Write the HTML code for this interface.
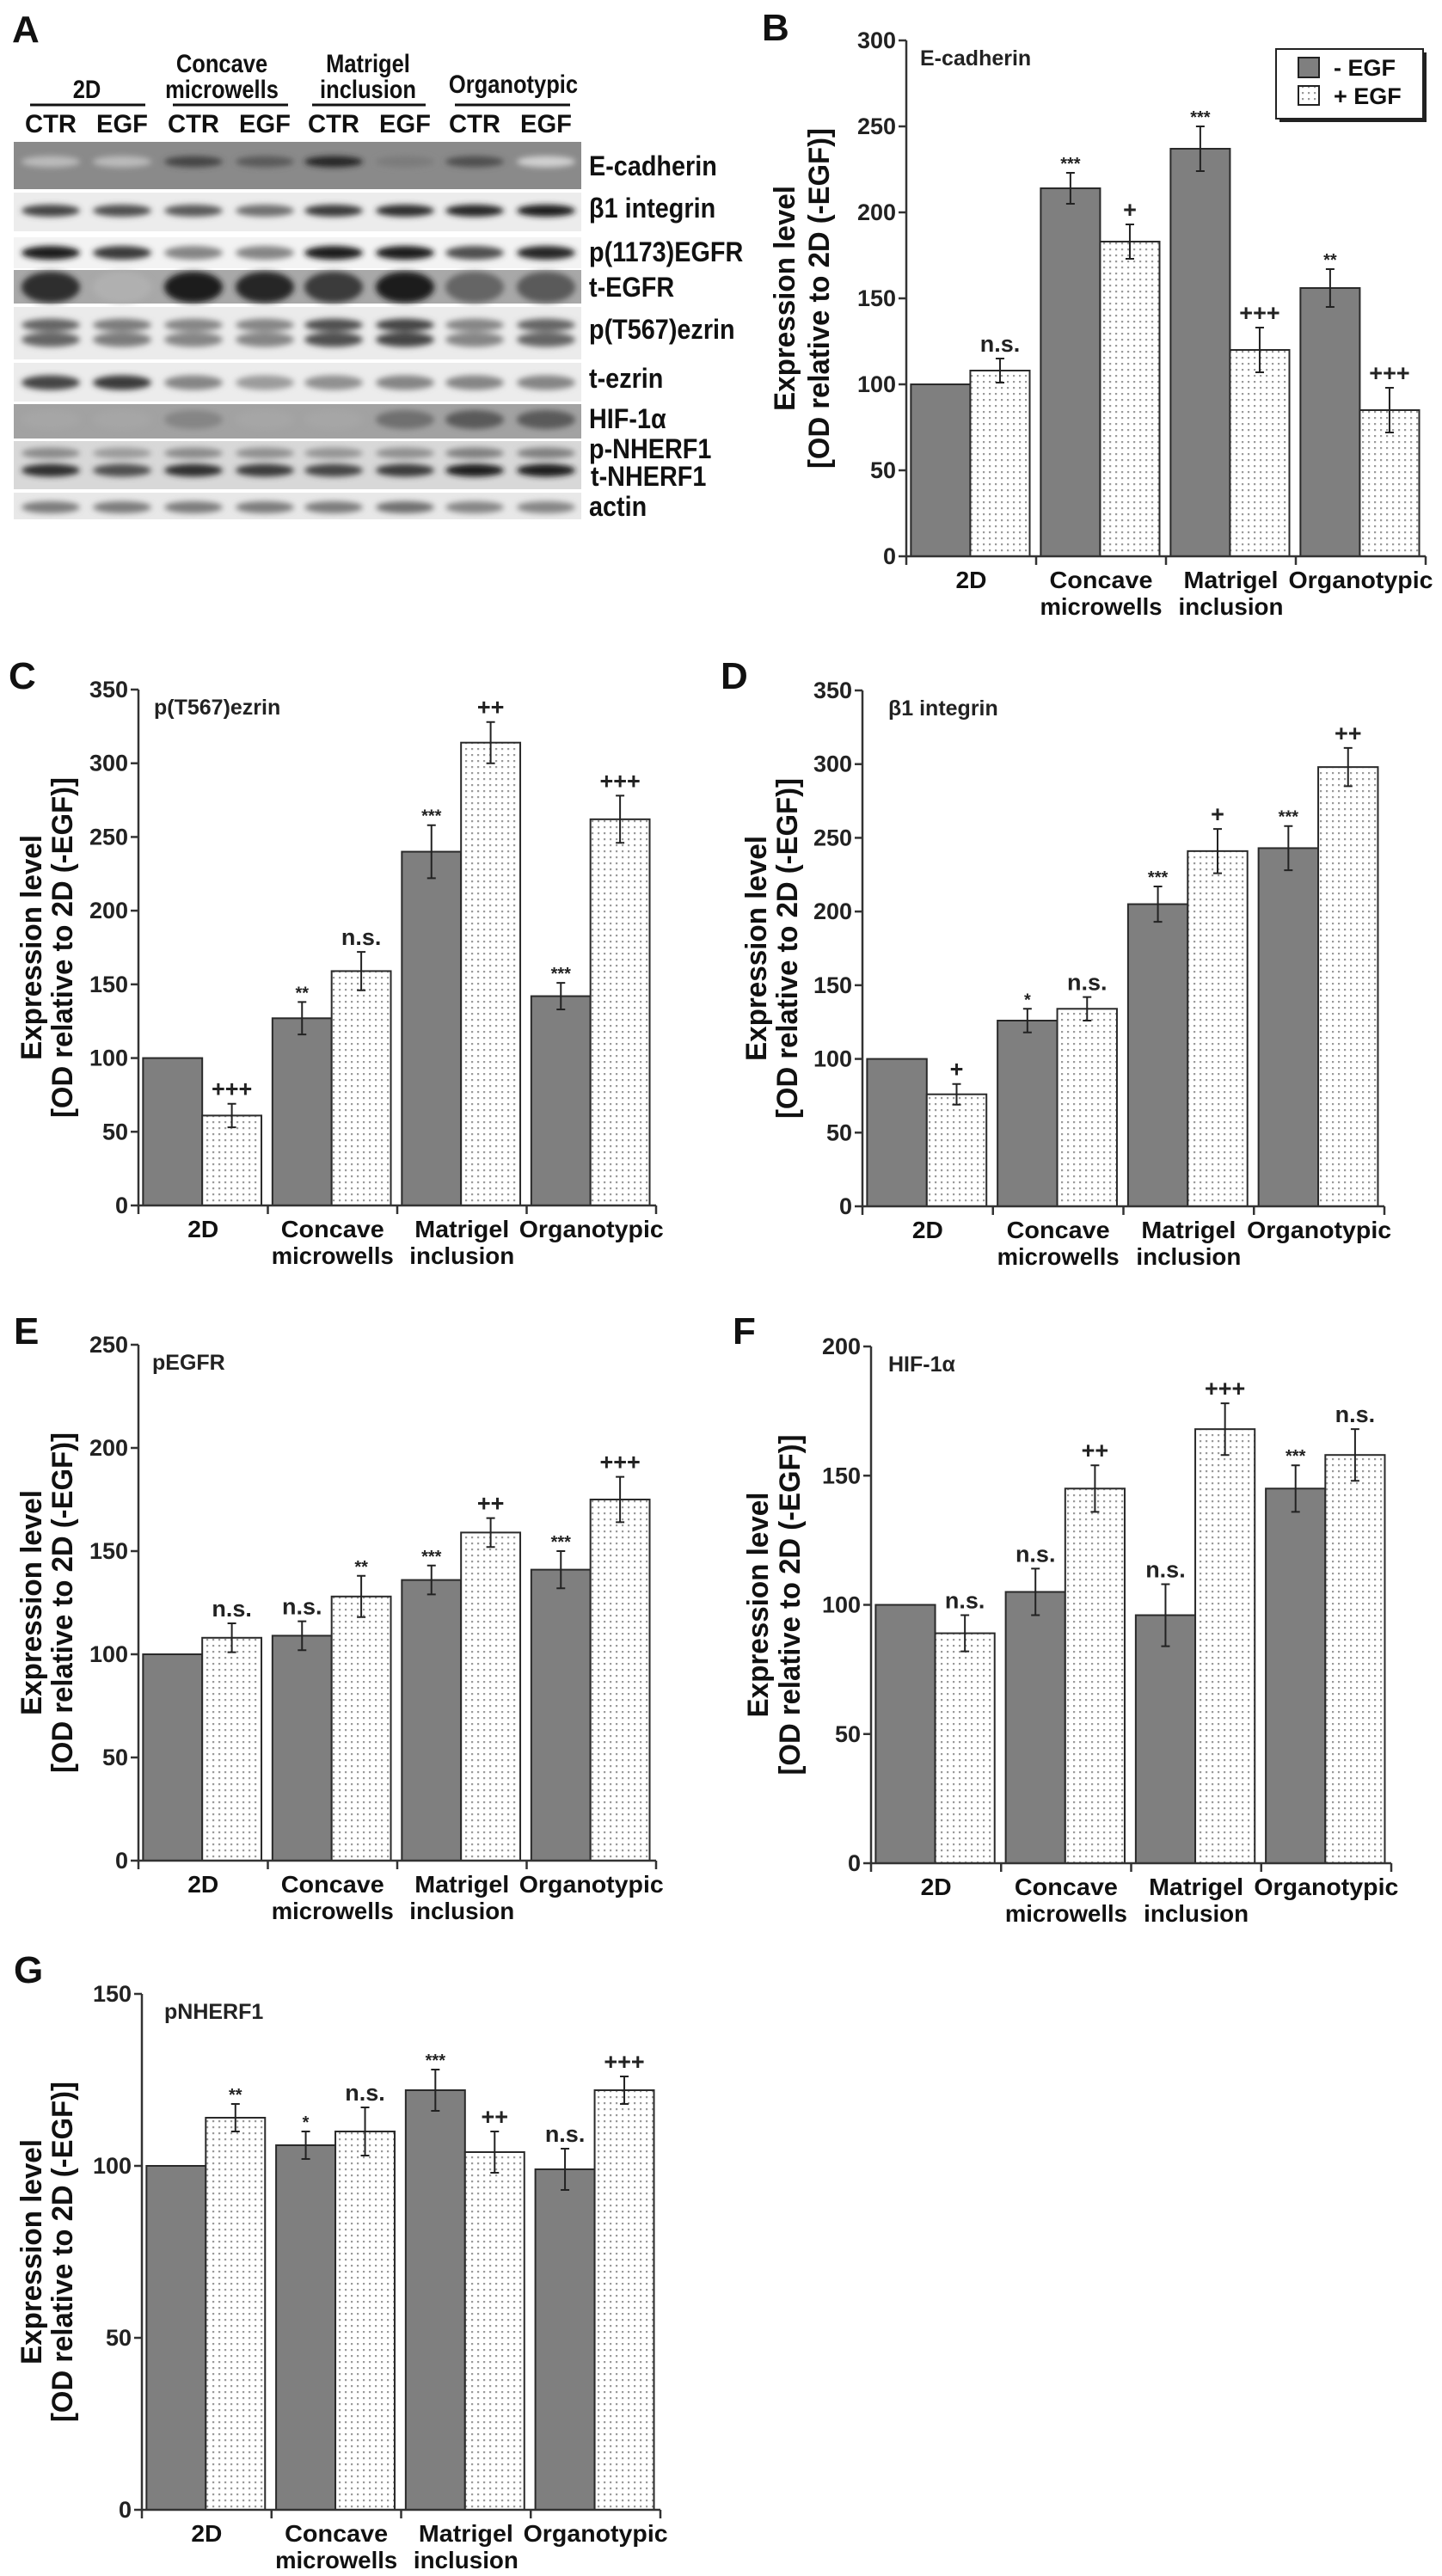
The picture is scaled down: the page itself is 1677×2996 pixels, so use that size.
<!DOCTYPE html>
<html><head><meta charset="utf-8">
<style>
html,body{margin:0;padding:0;background:#fff;}
svg{display:block;font-family:"Liberation Sans",sans-serif;}
</style></head>
<body>
<svg id="fig" width="1677" height="2996" viewBox="0 0 1677 2996" xmlns="http://www.w3.org/2000/svg">
<defs>
<pattern id="dots" width="7" height="7" patternUnits="userSpaceOnUse">
<rect width="7" height="7" fill="#fff"/>
<rect x="2" y="2" width="2.2" height="2.2" fill="#9a9a9a"/>
</pattern>
<filter id="blur" x="-30%" y="-100%" width="160%" height="300%"><feGaussianBlur stdDeviation="3.5"/></filter>
</defs>
</svg>
<script>
// ---------- chart data ----------
const categories = [["2D"],["Concave","microwells"],["Matrigel","inclusion"],["Organotypic"]];
const seriesNames = ["- EGF","+ EGF"];
// B E-cadherin
const bMinus = [100,214,237,156];
const bMinusErr = [0,9,13,11];
const bPlus = [108,183,120,85];
const bPlusErr = [7,10,13,13];
const bMinusSig = ["","***","***","**"];
const bPlusSig = ["n.s.","+","+++","+++"];
const bTicks = [0,50,100,150,200,250,300];
// C p(T567)ezrin
const cMinus = [100,127,240,142];
const cMinusErr = [0,11,18,9];
const cPlus = [61,159,314,262];
const cPlusErr = [8,13,14,16];
const cMinusSig = ["","**","***","***"];
const cPlusSig = ["+++","n.s.","++","+++"];
const cTicks = [0,50,100,150,200,250,300,350];
// D b1 integrin
const dMinus = [100,126,205,243];
const dMinusErr = [0,8,12,15];
const dPlus = [76,134,241,298];
const dPlusErr = [7,8,15,13];
const dMinusSig = ["","*","***","***"];
const dPlusSig = ["+","n.s.","+","++"];
const dTicks = [0,50,100,150,200,250,300,350];
// E pEGFR
const eMinus = [100,109,136,141];
const eMinusErr = [0,7,7,9];
const ePlus = [108,128,159,175];
const ePlusErr = [7,10,7,11];
const eMinusSig = ["","n.s.","***","***"];
const ePlusSig = ["n.s.","**","++","+++"];
const eTicks = [0,50,100,150,200,250];
// F HIF-1a
const fMinus = [100,105,96,145];
const fMinusErr = [0,9,12,9];
const fPlus = [89,145,168,158];
const fPlusErr = [7,9,10,10];
const fMinusSig = ["","n.s.","n.s.","***"];
const fPlusSig = ["n.s.","++","+++","n.s."];
const fTicks = [0,50,100,150,200];
// G pNHERF1
const gMinus = [100,106,122,99];
const gMinusErr = [0,4,6,6];
const gPlus = [114,110,104,122];
const gPlusErr = [4,7,6,4];
const gMinusSig = ["","*","***","n.s."];
const gPlusSig = ["**","n.s.","++","+++"];
const gTicks = [0,50,100,150];

const NS = "http://www.w3.org/2000/svg";
const svg = document.getElementById("fig");
function el(tag, attrs, parent, text){
  const e = document.createElementNS(NS, tag);
  for (const k in attrs) e.setAttribute(k, attrs[k]);
  if (text !== undefined) e.textContent = text;
  (parent || svg).appendChild(e);
  return e;
}
function squeeze(t, f){
  const w = t.getComputedTextLength();
  t.setAttribute("textLength", w*f);
  t.setAttribute("lengthAdjust","spacingAndGlyphs");
}

// ---------- panel letters ----------
const letters = [["A",14,49],["B",886,47],["C",10,801],["D",838,801],["E",16,1563],["F",852,1563],["G",16,2306]];
letters.forEach(l=>{
  const t = el("text",{x:l[1],y:l[2],"font-size":44,"font-weight":"bold",fill:"#111"},svg,l[0]);
  
  
});

// ---------- blot panel A ----------
const laneX = [59,142,225,308,388,471,552,635];
const laneLabels = ["CTR","EGF","CTR","EGF","CTR","EGF","CTR","EGF"];
const blotRows = [
  {name:"E-cadherin", y0:165,y1:220,bg:"#8a8a8a",bands:[[188,9]],ints:[0.2,0.2,0.75,0.65,0.9,0.5,0.7,0.1],label:"E-cadherin",ly:204},
  {name:"b1-integrin", y0:224,y1:269,bg:"#ececec",bands:[[245,10]],ints:[0.75,0.7,0.65,0.55,0.8,0.85,0.9,0.95],label:"β1 integrin",ly:253},
  {name:"p1173-egfr", y0:276,y1:312,bg:"#f3f3f3",bands:[[294,12]],ints:[0.95,0.8,0.45,0.45,0.95,0.95,0.7,0.9],label:"p(1173)EGFR",ly:304},
  {name:"t-egfr", y0:314,y1:353,bg:"#a8a8a8",bands:[[334,32]],ints:[0.85,0.25,0.95,0.9,0.8,0.95,0.6,0.65],label:"t-EGFR",ly:345},
  {name:"pt567-ezrin", y0:357,y1:418,bg:"#ebebeb",bands:[[378,11],[395,13]],ints:[0.6,0.5,0.45,0.45,0.7,0.75,0.45,0.6],label:"p(T567)ezrin",ly:394},
  {name:"t-ezrin", y0:422,y1:467,bg:"#ececec",bands:[[445,13]],ints:[0.75,0.8,0.45,0.35,0.4,0.45,0.45,0.45],label:"t-ezrin",ly:451},
  {name:"hif1a", y0:470,y1:510,bg:"#a2a2a2",bands:[[488,18]],ints:[0.3,0.3,0.45,0.3,0.3,0.55,0.65,0.65],label:"HIF-1α",ly:498},
  {name:"nherf1", y0:513,y1:569,bg:"#d8d8d8",bands:[[527,9],[547,11]],ints:[0.85,0.7,0.85,0.8,0.75,0.8,0.95,0.95],label:"p-NHERF1",ly:533},
  {name:"actin", y0:573,y1:604,bg:"#e8e8e8",bands:[[590,10]],ints:[0.5,0.5,0.5,0.5,0.5,0.55,0.45,0.45],label:"actin",ly:600}
];
const gBlot = el("g",{});


blotRows.forEach(r=>{
  const g = el("g",{},gBlot);
  
  
  el("rect",{x:16,y:r.y0,width:660,height:r.y1-r.y0,fill:r.bg},g);
  const gb = el("g",{filter:"url(#blur)"},g);
  laneX.forEach((x,i)=>{
    r.bands.forEach((b,bi)=>{
      let it = r.ints[i]; if (r.name==="nherf1" && bi===0) it*=0.5;
      const c = Math.round(230 - 215*it);
      el("ellipse",{cx:x,cy:b[0],rx:34,ry:b[1]/2+2,fill:`rgb(${c},${c},${c})`},gb);
    });
  });
  const t = el("text",{x:685,y:r.ly,"font-size":32,"font-weight":"bold",fill:"#111"},svg,r.label);
  squeeze(t,0.9);
  
  
});
const tn = el("text",{x:687,y:565,"font-size":32,"font-weight":"bold",fill:"#111"},svg,"t-NHERF1");
squeeze(tn,0.9);


// blot headers
const blotHeaders = [[["2D"],101,[114]],[["Concave","microwells"],258,[84,114]],[["Matrigel","inclusion"],428,[84,114]],[["Organotypic"],597,[108]]];
const underlines = [[35,169],[201,335],[363,495],[529,663]];
blotHeaders.forEach((h,i)=>{
  h[0].forEach((s,j)=>{
    const t = el("text",{x:h[1],y:h[2][j],"font-size":30,"font-weight":"bold","text-anchor":"middle",fill:"#111"},svg,s);
    squeeze(t,0.85);
    
    
  });
  const u = underlines[i];
  const ln = el("line",{x1:u[0],x2:u[1],y1:122,y2:122,stroke:"#111","stroke-width":3});
  
  
});
laneX.forEach((x,i)=>{
  const t = el("text",{x:x,y:154,"font-size":30,"font-weight":"bold","text-anchor":"middle",fill:"#111",textLength:60,lengthAdjust:"spacingAndGlyphs"},svg,laneLabels[i]);
  
  
});

// ---------- bar charts ----------
const catWidths = {"2D":36,"Concave":120,"microwells":142,"Matrigel":110,"inclusion":122,"Organotypic":168};
function barChart(cfg, minus, minusErr, plus, plusErr, minusSig, plusSig, ticks){
  const g = el("g",{});
  
  
  const yScale = v => cfg.y0 - (v/cfg.max)*(cfg.y0-cfg.yTop);
  const gw = (cfg.xEnd-cfg.axisX)/categories.length;
  const xBar = (gi, si) => cfg.axisX + gi*gw + gw*10/282 + si*gw*129/282;
  const bw = gw*129/282;
  [minus, plus].forEach((vals, si)=>{
    const errs = si===0 ? minusErr : plusErr;
    const sig = si===0 ? minusSig : plusSig;
    vals.forEach((v, gi)=>{
      const x = xBar(gi, si), y = yScale(v);
      const r = el("rect",{x:x,y:y,width:bw,height:cfg.y0-y,fill:si===0?"#7f7f7f":"url(#dots)",stroke:"#2a2a2a","stroke-width":2},g);
      
      
      const cx = x + bw/2;
      let top = y;
      if (errs[gi] > 0){
        const yt = yScale(v+errs[gi]), yb = yScale(v-errs[gi]);
        top = yt;
        const eb = el("path",{d:`M${cx},${yt}V${yb}M${cx-5},${yt}H${cx+5}M${cx-5},${yb}H${cx+5}`,stroke:"#222","stroke-width":2,fill:"none"},g);
        
        
      }
      if (sig[gi]){
        const star = sig[gi][0]==='*';
        const t = el("text",{x:cx,y:top-(star?4:8),"font-size":star?20:27,"font-weight":"bold","text-anchor":"middle",fill:"#222"},g,sig[gi]);
        
        
      }
    });
  });
  const ax = el("path",{d:`M${cfg.axisX},${cfg.yTop}V${cfg.y0}H${cfg.xEnd}`,stroke:"#333","stroke-width":2.5,fill:"none"},g);
  
  
  ticks.forEach(tv=>{
    const y = yScale(tv);
    el("line",{x1:cfg.axisX-9,x2:cfg.axisX,y1:y,y2:y,stroke:"#333","stroke-width":2.5},g);
    const t = el("text",{x:cfg.axisX-12,y:y+9,"font-size":27,"font-weight":"bold","text-anchor":"end",fill:"#222"},g,String(tv));
    
    
  });
  for (let i=0;i<=categories.length;i++){
    const x = cfg.axisX + i*gw;
    el("line",{x1:x,x2:x,y1:cfg.y0,y2:cfg.y0+10,stroke:"#333","stroke-width":2.5},g);
  }
  categories.forEach((c,i)=>{
    const cx = cfg.axisX + (i+0.5)*gw;
    c.forEach((s,j)=>{
      const t = el("text",{x:cx,y:cfg.y0+37+j*31,"font-size":28,"font-weight":"bold","text-anchor":"middle",fill:"#111",textLength:catWidths[s],lengthAdjust:"spacingAndGlyphs"},g,s);
      
      
    });
  });
  const my = (cfg.yTop+cfg.y0)/2;
  const t1 = el("text",{x:0,y:0,"font-size":34,"font-weight":"bold","text-anchor":"middle",fill:"#111",transform:`translate(${cfg.axisX+cfg.tOff[0]+12},${my}) rotate(-90)`,textLength:262,lengthAdjust:"spacingAndGlyphs"},g,"Expression level");
  
  
  const t2 = el("text",{x:0,y:0,"font-size":34,"font-weight":"bold","text-anchor":"middle",fill:"#111",transform:`translate(${cfg.axisX+cfg.tOff[1]+12},${my}) rotate(-90)`,textLength:396,lengthAdjust:"spacingAndGlyphs"},g,"[OD relative to 2D (-EGF)]");
  
  
  const it = el("text",{x:cfg.axisX+cfg.inX,y:cfg.yTop+29,"font-size":25,"font-weight":"bold",fill:"#222"},g,cfg.inner);
  
  
  return g;
}

barChart({name:"chart-e-cadherin",axisX:1054,xEnd:1658,yTop:47,y0:647,max:300,tOff:[-142,-102],inner:"E-cadherin",inX:16},bMinus,bMinusErr,bPlus,bPlusErr,bMinusSig,bPlusSig,bTicks);
barChart({name:"chart-pezrin",axisX:161,xEnd:763,yTop:802,y0:1402,max:350,tOff:[-125,-89],inner:"p(T567)ezrin",inX:18},cMinus,cMinusErr,cPlus,cPlusErr,cMinusSig,cPlusSig,cTicks);
barChart({name:"chart-b1-integrin",axisX:1003,xEnd:1610,yTop:803,y0:1403,max:350,tOff:[-124,-88],inner:"β1 integrin",inX:30},dMinus,dMinusErr,dPlus,dPlusErr,dMinusSig,dPlusSig,dTicks);
barChart({name:"chart-pegfr",axisX:161,xEnd:763,yTop:1564,y0:2164,max:250,tOff:[-125,-89],inner:"pEGFR",inX:16},eMinus,eMinusErr,ePlus,ePlusErr,eMinusSig,ePlusSig,eTicks);
barChart({name:"chart-hif1a",axisX:1013,xEnd:1618,yTop:1566,y0:2167,max:200,tOff:[-132,-95],inner:"HIF-1α",inX:20},fMinus,fMinusErr,fPlus,fPlusErr,fMinusSig,fPlusSig,fTicks);
barChart({name:"chart-pnherf1",axisX:165,xEnd:768,yTop:2319,y0:2919,max:150,tOff:[-129,-93],inner:"pNHERF1",inX:26},gMinus,gMinusErr,gPlus,gPlusErr,gMinusSig,gPlusSig,gTicks);

// legend (panel B)
const lg = el("g",{});


el("rect",{x:1488,y:61,width:171,height:81,fill:"#222"},lg);
el("rect",{x:1484,y:57,width:171,height:81,fill:"#fff",stroke:"#222","stroke-width":2},lg);
const sw1 = el("rect",{x:1510,y:67,width:24,height:23,fill:"#7f7f7f",stroke:"#222","stroke-width":2},lg);


const sw2 = el("rect",{x:1510,y:100,width:24,height:22,fill:"url(#dots)",stroke:"#222","stroke-width":2},lg);


const l1 = el("text",{x:1551,y:88,"font-size":27,"font-weight":"bold",fill:"#111"},lg,seriesNames[0]);


const l2 = el("text",{x:1551,y:121,"font-size":27,"font-weight":"bold",fill:"#111"},lg,seriesNames[1]);


</script>
</body></html>
